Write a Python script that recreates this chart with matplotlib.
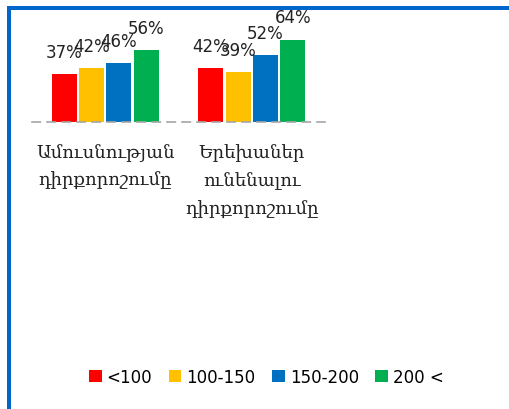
import matplotlib
matplotlib.use("Agg")
import matplotlib.pyplot as plt
import numpy as np
from matplotlib.lines import Line2D

categories = ["Ամուսնության\nդիրքորոշումը", "Երեխաներ\nունենալու\nդիրքորոշումը"]
series_names = ["<100", "100-150", "150-200", "200 <"]
values = {
    "<100": [37, 42],
    "100-150": [42, 39],
    "150-200": [46, 52],
    "200 <": [56, 64],
}
colors = ["#FF0000", "#FFC000", "#0070C0", "#00B050"]

fig = plt.figure(figsize=(5.1, 4.1), dpi=100)
ax = fig.add_axes([32/510, 1-123/410, (325-32)/510, (123-20)/410])

x = np.arange(len(categories))
w = 0.17
step = 0.187
for i, (name, c) in enumerate(zip(series_names, colors)):
    off = (i - 1.5) * step
    bars = ax.bar(x + off, values[name], width=w, color=c, label=name)
    ax.bar_label(bars, labels=[f"{v}%" for v in values[name]], padding=9.5,
                 fontsize=12, family="DejaVu Sans", color="#222222")

ax.set_xlim(-0.5, 1.5)
ax.set_ylim(0, 80)
for s in ["top", "right", "left"]:
    ax.spines[s].set_visible(False)
ax.spines["bottom"].set_color("#A6A6A6")
ax.spines["bottom"].set_linestyle((0, (5, 4)))
ax.spines["bottom"].set_linewidth(1.2)
ax.set_yticks([])
ax.set_xticks(x)
ax.set_xticklabels(categories, fontsize=13, family="DejaVu Serif", linespacing=1.75, color="#222222")
ax.tick_params(axis="x", length=0, pad=15)

fig.legend(loc="center", bbox_to_anchor=(0.5225, 1-378/410), ncol=4, frameon=False,
           handlelength=0.75, handleheight=0.75, handletextpad=0.3, columnspacing=1.0,
           prop={"family": "DejaVu Sans", "size": 12})

lw = 4 * 72 / 100
fig.add_artist(Line2D([9/510, 9/510], [0, 1-9/410], transform=fig.transFigure, color="#0066CC", lw=lw, solid_capstyle="projecting"))
fig.add_artist(Line2D([9/510, 1], [1-9/410, 1-9/410], transform=fig.transFigure, color="#0066CC", lw=lw, solid_capstyle="projecting"))

fig.savefig("out.png", dpi=100)
